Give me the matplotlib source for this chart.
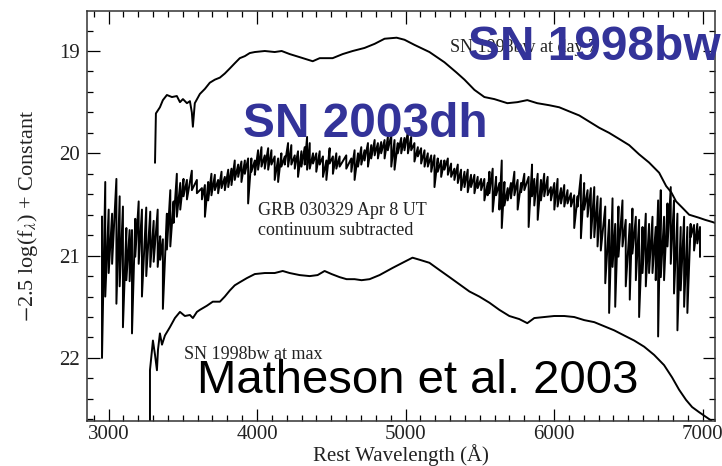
import numpy as np
import matplotlib
matplotlib.use('Agg')
import matplotlib.pyplot as plt
from matplotlib.ticker import MultipleLocator

plt.rcParams['font.family'] = ['Liberation Serif', 'DejaVu Serif']
plt.rcParams['mathtext.fontset'] = 'stix'

# SN 1998bw at day 7 (top spectrum)
day7_wave = [3313, 3319, 3346, 3366, 3393, 3427, 3460, 3481, 3501, 3528,
             3548, 3561, 3568, 3581, 3615, 3649, 3682, 3716, 3750, 3783,
             3817, 3850, 3884, 3918, 3951, 3985, 4052, 4119, 4166, 4220,
             4287, 4375, 4422, 4509, 4577, 4644, 4724, 4792, 4859, 4940,
             4993, 5060, 5161, 5262, 5343, 5397, 5464, 5531, 5598, 5686,
             5753, 5820, 5887, 5968, 6035, 6102, 6170, 6237, 6304, 6371,
             6439, 6506, 6573, 6640, 6708, 6755, 6789, 6822, 6863, 6910,
             6977, 7017, 7064, 7084]
day7_mag = [20.09, 19.61, 19.55, 19.48, 19.43, 19.45, 19.44, 19.50, 19.47, 19.51,
            19.49, 19.60, 19.74, 19.51, 19.42, 19.37, 19.31, 19.28, 19.26, 19.22,
            19.17, 19.12, 19.07, 19.05, 19.02, 19.01, 19.00, 19.01, 19.00, 19.03,
            19.06, 19.10, 19.07, 19.07, 19.03, 19.00, 18.97, 18.93, 18.88, 18.87,
            18.89, 18.94, 19.01, 19.11, 19.21, 19.28, 19.38, 19.45, 19.47, 19.51,
            19.50, 19.48, 19.51, 19.53, 19.55, 19.59, 19.63, 19.69, 19.75, 19.80,
            19.86, 19.92, 20.01, 20.09, 20.19, 20.32, 20.38, 20.47, 20.53, 20.60,
            20.63, 20.65, 20.67, 20.68]

# SN 1998bw at max (bottom spectrum)
max_wave = [3279, 3279, 3286, 3299, 3313, 3326, 3333, 3346, 3360, 3380,
            3413, 3447, 3481, 3514, 3548, 3568, 3595, 3615, 3662, 3702,
            3750, 3783, 3817, 3850, 3884, 3931, 3985, 4052, 4119, 4173,
            4220, 4287, 4355, 4408, 4455, 4502, 4556, 4603, 4657, 4704,
            4758, 4825, 4913, 4993, 5047, 5094, 5161, 5228, 5296, 5363,
            5430, 5497, 5565, 5632, 5699, 5766, 5820, 5867, 5934, 6001,
            6069, 6136, 6203, 6271, 6338, 6405, 6472, 6540, 6607, 6674,
            6741, 6795, 6842, 6889, 6930, 6977, 7017, 7057]
max_mag = [22.62, 22.12, 22.02, 21.83, 21.97, 22.12, 21.92, 21.76, 21.87, 21.78,
           21.70, 21.61, 21.55, 21.59, 21.58, 21.61, 21.55, 21.53, 21.49, 21.45,
           21.45, 21.40, 21.34, 21.29, 21.26, 21.22, 21.18, 21.17, 21.17, 21.15,
           21.17, 21.19, 21.20, 21.19, 21.15, 21.18, 21.21, 21.23, 21.23, 21.24,
           21.23, 21.19, 21.12, 21.06, 21.02, 21.04, 21.07, 21.14, 21.21, 21.28,
           21.35, 21.40, 21.46, 21.53, 21.59, 21.62, 21.66, 21.61, 21.60, 21.59,
           21.59, 21.60, 21.63, 21.65, 21.69, 21.73, 21.78, 21.83, 21.89, 21.97,
           22.07, 22.19, 22.31, 22.41, 22.48, 22.53, 22.57, 22.61]

# GRB 030329 / SN 2003dh, noisy spectrum: upper and lower excursions per column
grb_wave = [2956, 2978, 3001, 3024, 3053, 3075, 3097, 3120, 3142, 3158,
            3180, 3203, 3225, 3254, 3281, 3304, 3331, 3348, 3366, 3393,
            3416, 3438, 3460, 3483, 3505, 3528, 3561, 3595, 3629,
            3649, 3671, 3693, 3716, 3738, 3761, 3783, 3806, 3828, 3850,
            3873, 3895, 3918, 3940, 3962, 3985, 4007, 4030, 4052, 4075,
            4097, 4119, 4142, 4164, 4187, 4209, 4231, 4254, 4276, 4299,
            4321, 4337, 4355, 4377, 4399, 4422, 4444, 4467, 4489, 4511,
            4534, 4556, 4601, 4635, 4657, 4680, 4702, 4724, 4747, 4769,
            4792, 4814, 4836, 4859, 4881, 4904, 4926, 4948, 4971, 4993,
            5016, 5038, 5060, 5083, 5105, 5128, 5150, 5173, 5195, 5217,
            5240, 5262, 5285, 5307, 5329, 5352, 5374, 5397, 5419, 5441,
            5464, 5486, 5509, 5531, 5553, 5565, 5587, 5610, 5632, 5648,
            5666, 5688, 5710, 5733, 5755, 5778, 5800, 5829, 5852, 5867,
            5890, 5912, 5934, 5957, 5979, 6002, 6024, 6047, 6069, 6091,
            6114, 6136, 6159, 6181, 6203, 6226, 6248, 6271, 6293, 6315,
            6345, 6371, 6394, 6412, 6434, 6461, 6483, 6510, 6528, 6551,
            6573, 6596, 6618, 6640, 6663, 6685, 6701, 6719, 6741, 6764,
            6786, 6808, 6831, 6853, 6876, 6898, 6920, 6943, 6965, 6983]
grb_hi = [20.62, 20.28, 20.55, 20.59, 20.25, 20.42, 20.52, 20.73, 20.75, 20.75,
          20.64, 20.47, 20.55, 20.53, 20.57, 20.66, 20.55, 20.81, 20.84, 20.59,
          20.36, 20.47, 20.20, 20.29, 20.25, 20.26, 20.17, 20.26, 20.34,
          20.31, 20.28, 20.20, 20.21, 20.26, 20.18, 20.23, 20.16, 20.15, 20.07,
          20.11, 20.08, 20.07, 20.05, 20.05, 20.07, 19.97, 19.94, 20.02, 19.95,
          19.97, 20.03, 20.05, 20.00, 20.03, 19.90, 19.92, 20.02, 19.98, 19.98,
          19.94, 19.84, 19.90, 20.00, 20.00, 19.98, 20.03, 20.07, 19.95, 20.03,
          20.00, 20.03, 20.02, 20.05, 19.97, 20.00, 19.94, 19.97, 19.90, 19.92,
          19.87, 19.90, 19.89, 19.87, 19.84, 19.82, 19.87, 19.90, 19.85, 19.85,
          19.79, 19.84, 19.90, 19.94, 19.95, 19.97, 20.00, 20.02, 20.02, 20.05,
          20.07, 20.07, 20.05, 20.10, 20.15, 20.11, 20.16, 20.18, 20.16, 20.21,
          20.21, 20.23, 20.25, 20.25, 20.29, 20.18, 20.15, 20.23, 20.29, 20.07,
          20.28, 20.34, 20.29, 20.18, 20.26, 20.29, 20.20, 20.23, 20.11, 20.25,
          20.20, 20.26, 20.20, 20.23, 20.33, 20.29, 20.25, 20.34, 20.31, 20.36,
          20.39, 20.41, 20.42, 20.21, 20.29, 20.36, 20.34, 20.33, 20.42, 20.44,
          20.52, 20.65, 20.44, 20.69, 20.52, 20.46, 20.65, 20.69, 20.54, 20.62,
          20.65, 20.72, 20.59, 20.69, 20.62, 20.72, 20.46, 20.36, 20.62, 20.49,
          20.33, 20.46, 20.59, 20.72, 20.62, 20.72, 20.69, 20.70, 20.69, 20.72]
grb_lo = [22.00, 21.40, 21.17, 21.08, 21.47, 21.30, 21.70, 21.24, 21.25, 21.76,
          21.01, 21.08, 21.40, 21.20, 21.11, 21.06, 21.11, 21.04, 21.52, 20.94,
          20.91, 20.68, 20.62, 20.55, 20.42, 20.45, 20.36, 20.39, 20.45,
          20.62, 20.46, 20.41, 20.36, 20.39, 20.34, 20.36, 20.33, 20.31, 20.26,
          20.23, 20.28, 20.20, 20.49, 20.18, 20.21, 20.16, 20.13, 20.15, 20.16,
          20.11, 20.26, 20.28, 20.13, 20.11, 20.13, 20.11, 20.15, 20.23, 20.13,
          20.11, 20.16, 20.15, 20.10, 20.18, 20.11, 20.23, 20.26, 20.10, 20.20,
          20.15, 20.13, 20.15, 20.18, 20.26, 20.13, 20.11, 20.07, 20.13, 20.05,
          20.02, 20.05, 20.00, 20.05, 19.97, 20.13, 20.16, 20.00, 20.00, 19.97,
          20.00, 19.97, 20.08, 20.03, 20.10, 20.13, 20.13, 20.18, 20.33, 20.18,
          20.23, 20.16, 20.21, 20.23, 20.26, 20.29, 20.36, 20.33, 20.38, 20.33,
          20.39, 20.34, 20.36, 20.46, 20.41, 20.39, 20.57, 20.41, 20.55, 20.73,
          20.51, 20.46, 20.44, 20.41, 20.55, 20.38, 20.36, 20.72, 20.42, 20.51,
          20.65, 20.46, 20.42, 20.41, 20.46, 20.55, 20.52, 20.49, 20.52, 20.49,
          20.52, 20.73, 20.52, 20.83, 20.55, 20.62, 20.83, 20.82, 20.91, 20.95,
          21.27, 21.56, 21.11, 21.50, 21.01, 20.91, 21.30, 21.43, 20.98, 21.24,
          21.60, 21.17, 21.30, 21.17, 21.17, 21.24, 21.79, 21.21, 21.24, 20.91,
          21.08, 21.37, 21.73, 21.34, 21.50, 21.56, 20.82, 20.95, 20.88, 21.01]

BLUE = '#333399'
TXT = '#222222'

fig = plt.figure(figsize=(7.22, 4.66), dpi=100)
ax = fig.add_axes([0.1205, 0.0966, 0.8698, 0.8798])

ax.plot(day7_wave, day7_mag, color='black', linewidth=1.4)
ax.plot(max_wave, max_mag, color='black', linewidth=1.4)

# zig-zag between the upper and lower excursions of each column
grb_x = np.repeat(grb_wave, 2)
grb_y = np.column_stack([grb_hi, grb_lo]).ravel()
ax.plot(grb_x, grb_y, color='black', linewidth=1.4)

ax.set_xlim(2855, 7084)
ax.set_ylim(22.616, 18.609)
ax.set_yticks([19, 20, 21, 22])
ax.set_xticks([3000, 4000, 5000, 6000, 7000])
ax.xaxis.set_minor_locator(MultipleLocator(100))
ax.yaxis.set_minor_locator(MultipleLocator(0.2))
ax.tick_params(which='both', direction='in', top=True, right=True,
               labelsize=15, labelcolor=TXT, width=0.9, pad=5)
ax.tick_params(axis='x', which='major', pad=3)
ax.tick_params(which='major', length=9)
ax.tick_params(which='minor', length=4.5)
for s in ax.spines.values():
    s.set_linewidth(1.1)
    s.set_color('#333333')

ax.set_xlabel('Rest Wavelength (Å)', fontsize=15, color=TXT, labelpad=0)
ax.set_ylabel(r'$-$2.5 log(f$_\lambda$) + Constant', fontsize=16, color=TXT, labelpad=14)

# original small annotations
ax.text(5300, 19.01, 'SN 1998bw at day 7', fontsize=13, color=TXT)
ax.text(4007, 20.60, 'GRB 030329 Apr 8 UT', fontsize=13, color=TXT)
ax.text(4007, 20.80, 'continuum subtracted', fontsize=13, color=TXT)
ax.text(3508, 22.01, 'SN 1998bw at max', fontsize=13, color=TXT)

# slide overlays
ax.text(5421, 19.088, 'SN 1998bw', fontsize=34.5, fontweight='bold', color=BLUE,
        family='Liberation Sans', clip_on=False, zorder=10)
ax.text(3906, 19.84, 'SN 2003dh', fontsize=34.5, fontweight='bold', color=BLUE,
        family='Liberation Sans', clip_on=False, zorder=10)
ax.text(3596, 22.343, 'Matheson et al. 2003', fontsize=34, color='black',
        family='Liberation Sans', clip_on=False, zorder=10)

fig.savefig('out.png', dpi=100)
